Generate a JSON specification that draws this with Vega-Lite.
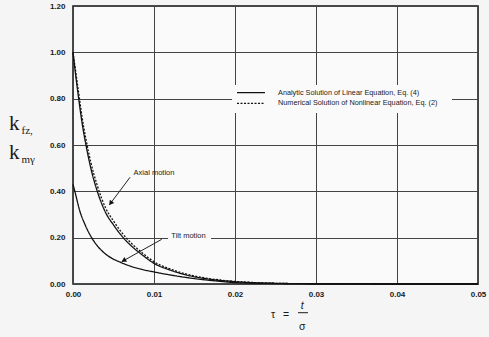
{
  "$schema": "https://vega.github.io/schema/vega-lite/v6.json",
  "width": 405,
  "height": 278,
  "autosize": "none",
  "padding": {"left": 73, "top": 6, "right": 11, "bottom": 53},
  "background": "#f5f5f5",
  "config": {
    "view": {"stroke": "#111", "strokeWidth": 1.5, "fill": "#fafafa"},
    "axis": {
      "labelFont": "Liberation Sans",
      "labelFontSize": 8,
      "labelFontWeight": "bold",
      "labelColor": "#1a1a1a",
      "ticks": false,
      "domain": false,
      "grid": true,
      "gridColor": "#444",
      "gridWidth": 1,
      "title": null
    }
  },
  "datasets": {
    "curves": [
      {"curve": "axial", "solution": "Analytic Solution of Linear Equation, Eq. (4)", "tau": 0, "k": 1.0},
      {"curve": "axial", "solution": "Analytic Solution of Linear Equation, Eq. (4)", "tau": 0.0003, "k": 0.91},
      {"curve": "axial", "solution": "Analytic Solution of Linear Equation, Eq. (4)", "tau": 0.0007, "k": 0.8},
      {"curve": "axial", "solution": "Analytic Solution of Linear Equation, Eq. (4)", "tau": 0.0011, "k": 0.7},
      {"curve": "axial", "solution": "Analytic Solution of Linear Equation, Eq. (4)", "tau": 0.0016, "k": 0.6},
      {"curve": "axial", "solution": "Analytic Solution of Linear Equation, Eq. (4)", "tau": 0.0022, "k": 0.5},
      {"curve": "axial", "solution": "Analytic Solution of Linear Equation, Eq. (4)", "tau": 0.003, "k": 0.4},
      {"curve": "axial", "solution": "Analytic Solution of Linear Equation, Eq. (4)", "tau": 0.004, "k": 0.31},
      {"curve": "axial", "solution": "Analytic Solution of Linear Equation, Eq. (4)", "tau": 0.005, "k": 0.255},
      {"curve": "axial", "solution": "Analytic Solution of Linear Equation, Eq. (4)", "tau": 0.0062, "k": 0.2},
      {"curve": "axial", "solution": "Analytic Solution of Linear Equation, Eq. (4)", "tau": 0.0075, "k": 0.155},
      {"curve": "axial", "solution": "Analytic Solution of Linear Equation, Eq. (4)", "tau": 0.0085, "k": 0.127},
      {"curve": "axial", "solution": "Analytic Solution of Linear Equation, Eq. (4)", "tau": 0.01, "k": 0.089},
      {"curve": "axial", "solution": "Analytic Solution of Linear Equation, Eq. (4)", "tau": 0.012, "k": 0.06},
      {"curve": "axial", "solution": "Analytic Solution of Linear Equation, Eq. (4)", "tau": 0.014, "k": 0.039},
      {"curve": "axial", "solution": "Analytic Solution of Linear Equation, Eq. (4)", "tau": 0.016, "k": 0.025},
      {"curve": "axial", "solution": "Analytic Solution of Linear Equation, Eq. (4)", "tau": 0.018, "k": 0.016},
      {"curve": "axial", "solution": "Analytic Solution of Linear Equation, Eq. (4)", "tau": 0.02, "k": 0.01},
      {"curve": "axial", "solution": "Analytic Solution of Linear Equation, Eq. (4)", "tau": 0.022, "k": 0.006},
      {"curve": "axial", "solution": "Analytic Solution of Linear Equation, Eq. (4)", "tau": 0.025, "k": 0.003},
      {"curve": "axial", "solution": "Analytic Solution of Linear Equation, Eq. (4)", "tau": 0.03, "k": 0.001},
      {"curve": "axial", "solution": "Analytic Solution of Linear Equation, Eq. (4)", "tau": 0.04, "k": 0},
      {"curve": "axial", "solution": "Analytic Solution of Linear Equation, Eq. (4)", "tau": 0.05, "k": 0},
      {"curve": "axial", "solution": "Numerical Solution of Nonlinear Equation, Eq. (2)", "tau": 0, "k": 1.0},
      {"curve": "axial", "solution": "Numerical Solution of Nonlinear Equation, Eq. (2)", "tau": 0.0003, "k": 0.925},
      {"curve": "axial", "solution": "Numerical Solution of Nonlinear Equation, Eq. (2)", "tau": 0.0007, "k": 0.825},
      {"curve": "axial", "solution": "Numerical Solution of Nonlinear Equation, Eq. (2)", "tau": 0.0011, "k": 0.725},
      {"curve": "axial", "solution": "Numerical Solution of Nonlinear Equation, Eq. (2)", "tau": 0.0016, "k": 0.625},
      {"curve": "axial", "solution": "Numerical Solution of Nonlinear Equation, Eq. (2)", "tau": 0.0022, "k": 0.525},
      {"curve": "axial", "solution": "Numerical Solution of Nonlinear Equation, Eq. (2)", "tau": 0.003, "k": 0.425},
      {"curve": "axial", "solution": "Numerical Solution of Nonlinear Equation, Eq. (2)", "tau": 0.004, "k": 0.33},
      {"curve": "axial", "solution": "Numerical Solution of Nonlinear Equation, Eq. (2)", "tau": 0.005, "k": 0.272},
      {"curve": "axial", "solution": "Numerical Solution of Nonlinear Equation, Eq. (2)", "tau": 0.0062, "k": 0.214},
      {"curve": "axial", "solution": "Numerical Solution of Nonlinear Equation, Eq. (2)", "tau": 0.0075, "k": 0.166},
      {"curve": "axial", "solution": "Numerical Solution of Nonlinear Equation, Eq. (2)", "tau": 0.0085, "k": 0.136},
      {"curve": "axial", "solution": "Numerical Solution of Nonlinear Equation, Eq. (2)", "tau": 0.01, "k": 0.096},
      {"curve": "axial", "solution": "Numerical Solution of Nonlinear Equation, Eq. (2)", "tau": 0.012, "k": 0.065},
      {"curve": "axial", "solution": "Numerical Solution of Nonlinear Equation, Eq. (2)", "tau": 0.014, "k": 0.043},
      {"curve": "axial", "solution": "Numerical Solution of Nonlinear Equation, Eq. (2)", "tau": 0.016, "k": 0.028},
      {"curve": "axial", "solution": "Numerical Solution of Nonlinear Equation, Eq. (2)", "tau": 0.018, "k": 0.018},
      {"curve": "axial", "solution": "Numerical Solution of Nonlinear Equation, Eq. (2)", "tau": 0.02, "k": 0.011},
      {"curve": "axial", "solution": "Numerical Solution of Nonlinear Equation, Eq. (2)", "tau": 0.022, "k": 0.007},
      {"curve": "axial", "solution": "Numerical Solution of Nonlinear Equation, Eq. (2)", "tau": 0.025, "k": 0.003},
      {"curve": "axial", "solution": "Numerical Solution of Nonlinear Equation, Eq. (2)", "tau": 0.03, "k": 0.001},
      {"curve": "axial", "solution": "Numerical Solution of Nonlinear Equation, Eq. (2)", "tau": 0.04, "k": 0},
      {"curve": "axial", "solution": "Numerical Solution of Nonlinear Equation, Eq. (2)", "tau": 0.05, "k": 0},
      {"curve": "tilt", "solution": "Analytic Solution of Linear Equation, Eq. (4)", "tau": 0, "k": 0.43},
      {"curve": "tilt", "solution": "Analytic Solution of Linear Equation, Eq. (4)", "tau": 0.0003, "k": 0.39},
      {"curve": "tilt", "solution": "Analytic Solution of Linear Equation, Eq. (4)", "tau": 0.0008, "k": 0.32},
      {"curve": "tilt", "solution": "Analytic Solution of Linear Equation, Eq. (4)", "tau": 0.0015, "k": 0.255},
      {"curve": "tilt", "solution": "Analytic Solution of Linear Equation, Eq. (4)", "tau": 0.0023, "k": 0.2},
      {"curve": "tilt", "solution": "Analytic Solution of Linear Equation, Eq. (4)", "tau": 0.003, "k": 0.165},
      {"curve": "tilt", "solution": "Analytic Solution of Linear Equation, Eq. (4)", "tau": 0.004, "k": 0.13},
      {"curve": "tilt", "solution": "Analytic Solution of Linear Equation, Eq. (4)", "tau": 0.005, "k": 0.107},
      {"curve": "tilt", "solution": "Analytic Solution of Linear Equation, Eq. (4)", "tau": 0.0057, "k": 0.096},
      {"curve": "tilt", "solution": "Analytic Solution of Linear Equation, Eq. (4)", "tau": 0.007, "k": 0.078},
      {"curve": "tilt", "solution": "Analytic Solution of Linear Equation, Eq. (4)", "tau": 0.0085, "k": 0.063},
      {"curve": "tilt", "solution": "Analytic Solution of Linear Equation, Eq. (4)", "tau": 0.01, "k": 0.052},
      {"curve": "tilt", "solution": "Analytic Solution of Linear Equation, Eq. (4)", "tau": 0.012, "k": 0.039},
      {"curve": "tilt", "solution": "Analytic Solution of Linear Equation, Eq. (4)", "tau": 0.014, "k": 0.028},
      {"curve": "tilt", "solution": "Analytic Solution of Linear Equation, Eq. (4)", "tau": 0.016, "k": 0.019},
      {"curve": "tilt", "solution": "Analytic Solution of Linear Equation, Eq. (4)", "tau": 0.018, "k": 0.012},
      {"curve": "tilt", "solution": "Analytic Solution of Linear Equation, Eq. (4)", "tau": 0.02, "k": 0.006},
      {"curve": "tilt", "solution": "Analytic Solution of Linear Equation, Eq. (4)", "tau": 0.025, "k": 0.002},
      {"curve": "tilt", "solution": "Analytic Solution of Linear Equation, Eq. (4)", "tau": 0.03, "k": 0.001},
      {"curve": "tilt", "solution": "Analytic Solution of Linear Equation, Eq. (4)", "tau": 0.04, "k": 0},
      {"curve": "tilt", "solution": "Analytic Solution of Linear Equation, Eq. (4)", "tau": 0.05, "k": 0}
    ],
    "boxes": [
      {"tau": 0.01173, "tau2": 0.01704, "k": 0.233, "k2": 0.186},
      {"tau": 0.01963, "tau2": 0.04679, "k": 0.859, "k2": 0.738}
    ],
    "legendkeys": [
      {"solution": "Analytic Solution of Linear Equation, Eq. (4)", "tau": 0.02025, "tau2": 0.0237, "k": 0.8258},
      {"solution": "Numerical Solution of Nonlinear Equation, Eq. (2)", "tau": 0.02025, "tau2": 0.0237, "k": 0.780}
    ],
    "legendlabels": [
      {"tau": 0.02531, "k": 0.8258, "label": "Analytic Solution of Linear Equation, Eq. (4)"},
      {"tau": 0.02531, "k": 0.780, "label": "Numerical Solution of Nonlinear Equation, Eq. (2)"}
    ],
    "notes": [
      {"tau": 0.0100, "k": 0.478, "label": "Axial motion"},
      {"tau": 0.01426, "k": 0.207, "label": "Tilt motion"}
    ],
    "arrows": [
      {"arrow": "axial", "tau": 0.00704, "k": 0.4606, "tau2": 0.00448, "k2": 0.341},
      {"arrow": "tilt", "tau": 0.01095, "k": 0.1928, "tau2": 0.00601, "k2": 0.0963}
    ],
    "heads": [
      {"arrow": "axial", "tau": 0.004704, "k": 0.3514},
      {"arrow": "tilt", "tau": 0.006333, "k": 0.1027}
    ],
    "ytitle": [
      {"tau": -0.0079, "k": 0.665, "main": "k", "sub": "fz,"},
      {"tau": -0.0079, "k": 0.54, "main": "k", "sub": "mγ"}
    ],
    "xtitle": [
      {"part": "lhs", "tau": 0.02469, "k": -0.1468, "label": "τ"},
      {"part": "eq", "tau": 0.0263, "k": -0.1468, "label": "="},
      {"part": "num", "tau": 0.02831, "k": -0.108, "label": "t"},
      {"part": "den", "tau": 0.02831, "k": -0.1986, "label": "σ"}
    ],
    "bar": [{"tau": 0.02778, "tau2": 0.02901, "k": -0.1239}]
  },
  "encoding": {
    "x": {
      "field": "tau", "type": "quantitative",
      "scale": {"domain": [0, 0.05], "nice": false, "zero": false},
      "axis": {"values": [0, 0.01, 0.02, 0.03, 0.04, 0.05], "format": ".2f", "labelPadding": 6, "labelFlush": false}
    },
    "y": {
      "field": "k", "type": "quantitative",
      "scale": {"domain": [0, 1.2], "nice": false, "zero": false},
      "axis": {"values": [0, 0.2, 0.4, 0.6, 0.8, 1.0, 1.2], "format": ".2f", "labelPadding": 8, "labelFlush": false}
    }
  },
  "layer": [
    {
      "data": {"name": "boxes"},
      "mark": {"type": "rect", "fill": "#fafafa"},
      "encoding": {"x2": {"field": "tau2"}, "y2": {"field": "k2"}}
    },
    {
      "data": {"name": "curves"},
      "mark": {"type": "line", "color": "#111", "strokeWidth": 1.3, "interpolate": "monotone"},
      "encoding": {
        "detail": {"field": "curve", "type": "nominal"},
        "strokeDash": {
          "field": "solution", "type": "nominal",
          "scale": {
            "domain": ["Analytic Solution of Linear Equation, Eq. (4)", "Numerical Solution of Nonlinear Equation, Eq. (2)"],
            "range": [[1, 0], [2, 1.5]]
          },
          "legend": null
        }
      }
    },
    {
      "data": {"name": "legendkeys"},
      "mark": {"type": "rule", "color": "#111", "strokeWidth": 1.3},
      "encoding": {
        "x2": {"field": "tau2"},
        "strokeDash": {"field": "solution", "type": "nominal", "legend": null}
      }
    },
    {
      "data": {"name": "legendlabels"},
      "mark": {"type": "text", "font": "Liberation Sans", "fontSize": 7.3, "color": "#1a1a1a", "align": "left", "baseline": "middle"},
      "encoding": {"text": {"field": "label"}}
    },
    {
      "data": {"name": "arrows"},
      "mark": {"type": "rule", "color": "#222", "strokeWidth": 1},
      "encoding": {"x2": {"field": "tau2"}, "y2": {"field": "k2"}}
    },
    {
      "data": {"name": "heads"},
      "transform": [{"filter": "datum.arrow === 'axial'"}],
      "mark": {"type": "point", "shape": "triangle", "filled": true, "color": "#111", "size": 30, "angle": 217, "opacity": 1}
    },
    {
      "data": {"name": "heads"},
      "transform": [{"filter": "datum.arrow === 'tilt'"}],
      "mark": {"type": "point", "shape": "triangle", "filled": true, "color": "#111", "size": 30, "angle": 241, "opacity": 1}
    },
    {
      "data": {"name": "notes"},
      "mark": {"type": "text", "font": "Liberation Sans", "fontSize": 7.5, "color": "#1a1a1a", "align": "center", "baseline": "middle"},
      "encoding": {"text": {"field": "label"}}
    },
    {
      "data": {"name": "ytitle"},
      "mark": {"type": "text", "font": "Liberation Serif", "fontSize": 21, "color": "#1a1a1a", "align": "left", "baseline": "alphabetic"},
      "encoding": {"text": {"field": "main"}}
    },
    {
      "data": {"name": "ytitle"},
      "mark": {"type": "text", "font": "Liberation Serif", "fontSize": 11, "color": "#1a1a1a", "align": "left", "baseline": "alphabetic", "dx": 12.5, "dy": 4},
      "encoding": {"text": {"field": "sub"}}
    },
    {
      "data": {"name": "xtitle"},
      "transform": [{"filter": "datum.part !== 'num'"}],
      "mark": {"type": "text", "font": "Liberation Sans", "fontSize": 10.5, "color": "#1a1a1a", "align": "center", "baseline": "alphabetic"},
      "encoding": {"text": {"field": "label"}}
    },
    {
      "data": {"name": "xtitle"},
      "transform": [{"filter": "datum.part === 'num'"}],
      "mark": {"type": "text", "font": "Liberation Sans", "fontSize": 10.5, "fontStyle": "italic", "color": "#1a1a1a", "align": "center", "baseline": "alphabetic"},
      "encoding": {"text": {"field": "label"}}
    },
    {
      "data": {"name": "bar"},
      "mark": {"type": "rule", "color": "#1a1a1a", "strokeWidth": 1},
      "encoding": {"x2": {"field": "tau2"}}
    }
  ]
}
